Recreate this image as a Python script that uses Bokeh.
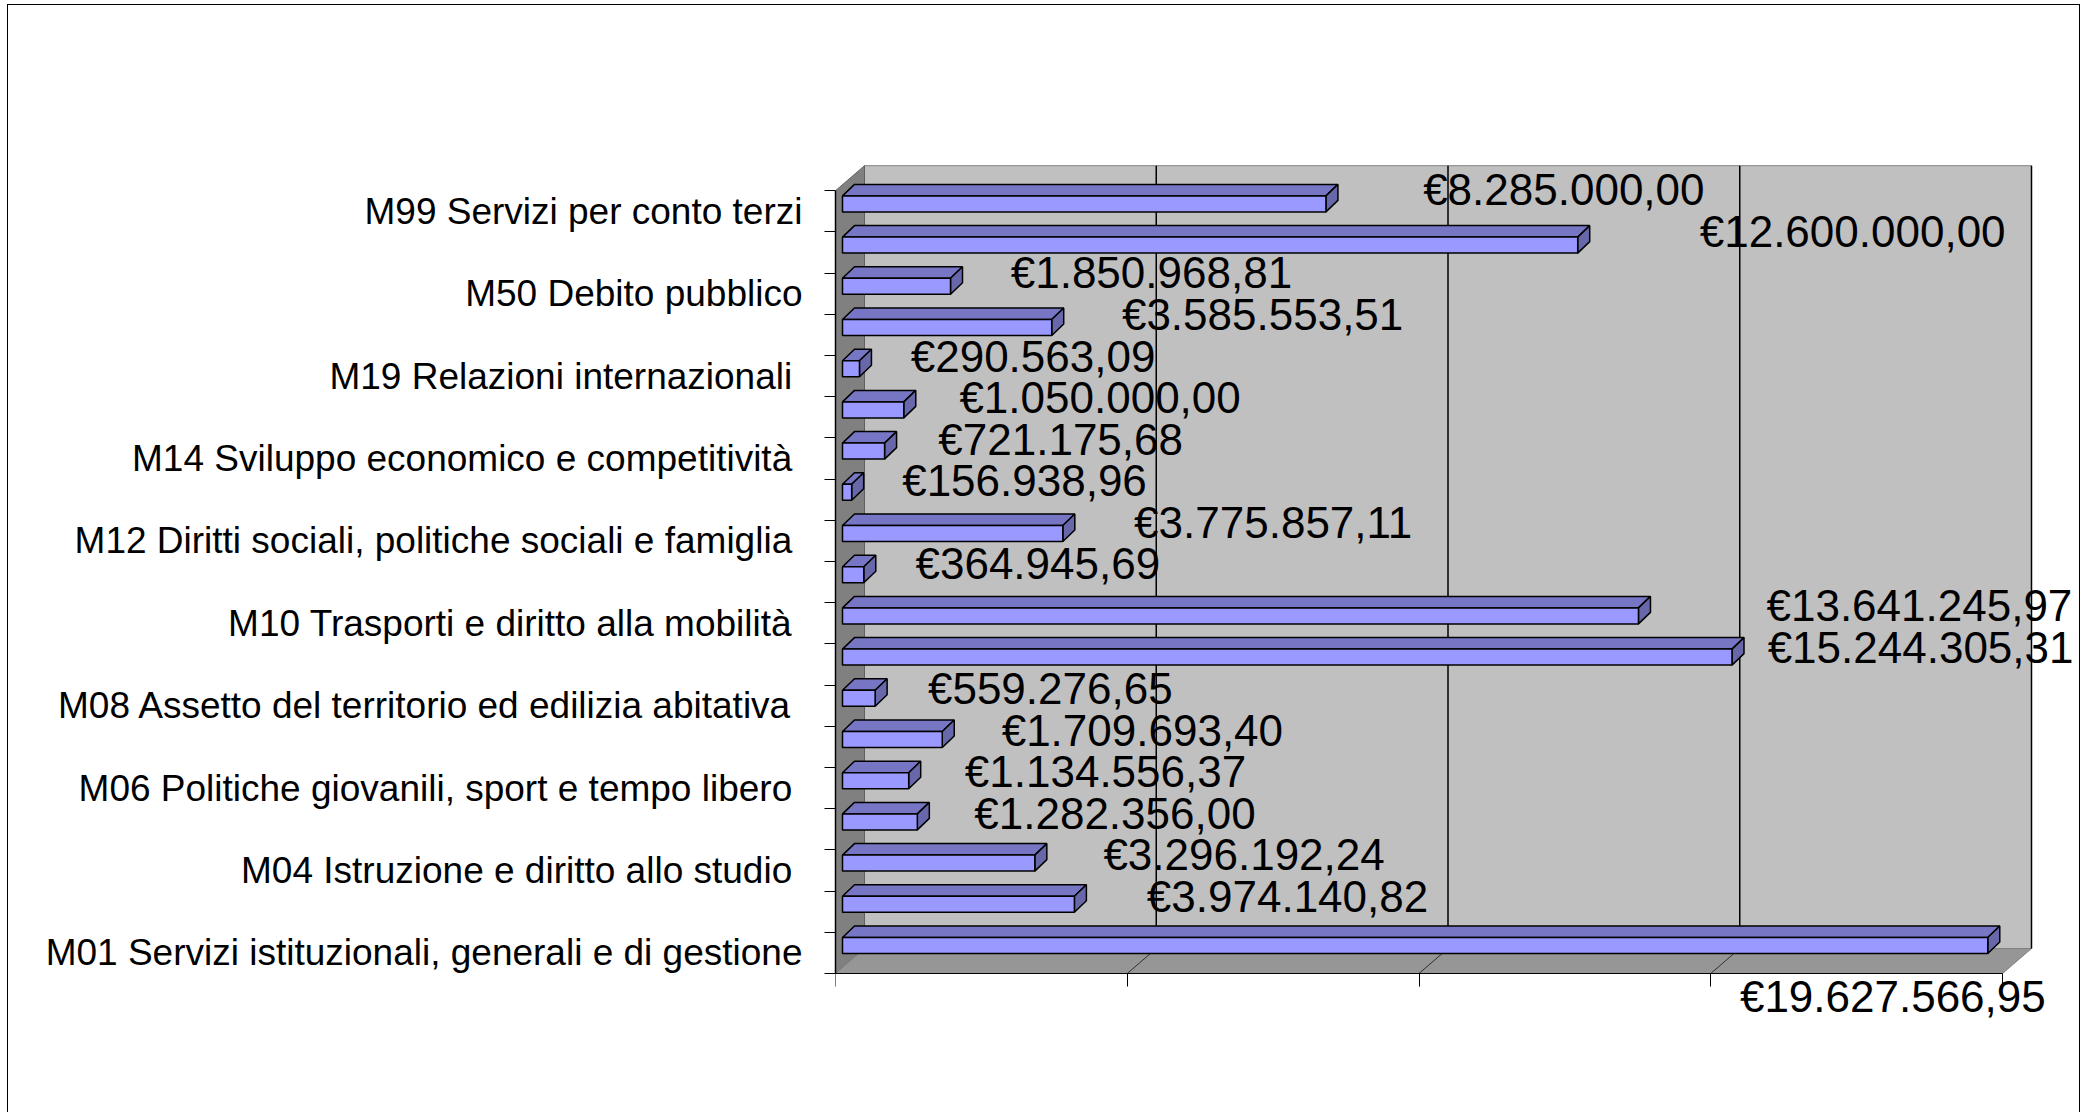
from bokeh.plotting import figure
from bokeh.models import ColumnDataSource, FixedTicker, LabelSet, Range1d
from bokeh.core.properties import value as V
from bokeh.embed import file_html
from bokeh.resources import INLINE

# ---------------- data (bottom to top) ----------------
codes = ["M01", "M03", "M04", "M05", "M06", "M07", "M08", "M09", "M10", "M11",
         "M12", "M13", "M14", "M15", "M19", "M20", "M50", "M60", "M99"]
names = [
    "M01 Servizi istituzionali, generali e di gestione",
    "M03 Ordine pubblico e sicurezza",
    "M04 Istruzione e diritto allo studio\u00a0",
    "M05 Tutela e valorizzazione dei beni e attività culturali",
    "M06 Politiche giovanili, sport e tempo libero\u00a0",
    "M07 Turismo",
    "M08 Assetto del territorio ed edilizia abitativa\u00a0",
    "M09 Sviluppo sostenibile e tutela del territorio e dell'ambiente",
    "M10 Trasporti e diritto alla mobilità\u00a0",
    "M11 Soccorso civile",
    "M12 Diritti sociali, politiche sociali e famiglia\u00a0",
    "M13 Tutela della salute",
    "M14 Sviluppo economico e competitività\u00a0",
    "M15 Politiche per il lavoro e la formazione professionale",
    "M19 Relazioni internazionali\u00a0",
    "M20 Fondi e accantonamenti",
    "M50 Debito pubblico",
    "M60 Anticipazioni finanziarie",
    "M99 Servizi per conto terzi",
]
values = [19627566.95, 3974140.82, 3296192.24, 1282356.00, 1134556.37,
          1709693.40, 559276.65, 15244305.31, 13641245.97, 364945.69,
          3775857.11, 156938.96, 721175.68, 1050000.00, 290563.09,
          3585553.51, 1850968.81, 12600000.00, 8285000.00]
x_ticks = [0, 5000000, 10000000, 15000000, 20000000]
AX_MAX = 20000000


def euro(v):
    s = f"{v:,.2f}"
    s = s.replace(",", "X").replace(".", ",").replace("X", ".")
    return "\u20ac" + s


# ---------------- geometry (pixels -> data units) ----------------
S = 291.75 / 5e6          # px per euro
CAT = 41.2                # px per category
FRAME_W, FRAME_H = 1245, 876
BELOW = 66                # px of frame below the floor front edge
DX, DY = 29 / S, 25 / CAT            # wall depth
OX = 7 / S                           # bar front face offset
B0, B1 = 20 / CAT - 0.5, 36 / CAT - 0.5
BDX, BDY = 12 / S, 11.5 / CAT        # bar depth
FONT = "Liberation Sans"
VAL_FS = 44
CAT_FS = 37

y0 = -0.5 - BELOW / CAT
p = figure(frame_width=FRAME_W, frame_height=FRAME_H,
           x_range=Range1d(0, FRAME_W / S), y_range=Range1d(y0, y0 + FRAME_H / CAT),
           output_backend="svg", toolbar_location=None,
           min_border_left=835, min_border_top=163, min_border_right=1, min_border_bottom=73)
p.border_fill_color = None
p.background_fill_color = None
p.outline_line_color = None
p.grid.visible = False
line = "linear-gradient(#000,#000)"
p.styles = {"background": f"{line} 7px 4px / 1px 1200px no-repeat, "
                          f"{line} 7px 4px / 2073px 1px no-repeat, "
                          f"{line} 2079px 4px / 1px 1200px no-repeat"}

n = len(values)
top_edge = n - 0.5

# walls
p.quad(left=[DX], right=[AX_MAX + DX], bottom=[-0.5 + DY], top=[top_edge + DY],
       fill_color="#C0C0C0", line_color="#808080", line_width=1)
p.patch([0, DX, DX, 0], [-0.5, -0.5 + DY, top_edge + DY, top_edge],
        fill_color="#808080", line_color="#606060", line_width=1)
p.patch([0, AX_MAX, AX_MAX + DX, DX], [-0.5, -0.5, -0.5 + DY, -0.5 + DY],
        fill_color="#969696", line_color="#808080", line_width=1)
# gridlines on back wall and floor
gx = [t + DX for t in x_ticks[1:]]
p.segment(x0=gx, y0=[-0.5 + DY] * len(gx), x1=gx, y1=[top_edge + DY] * len(gx),
          line_color="black", line_width=1.5)
p.segment(x0=x_ticks[1:-1], y0=[-0.5] * 3, x1=[t + DX for t in x_ticks[1:-1]],
          y1=[-0.5 + DY] * 3, line_color="#303030", line_width=1)

# bars
idx = list(range(n))
src_front = ColumnDataSource(dict(left=[OX] * n, right=[OX + v for v in values],
                                  bottom=[i + B0 for i in idx], top=[i + B1 for i in idx]))
top_xs = [[OX, OX + v, OX + v + BDX, OX + BDX] for v in values]
top_ys = [[i + B1, i + B1, i + B1 + BDY, i + B1 + BDY] for i in idx]
side_xs = [[OX + v, OX + v + BDX, OX + v + BDX, OX + v] for v in values]
side_ys = [[i + B0, i + B0 + BDY, i + B1 + BDY, i + B1] for i in idx]
p.patches(top_xs, top_ys, fill_color="#7676C4", line_color="black", line_width=1.5)
p.patches(side_xs, side_ys, fill_color="#6767AA", line_color="black", line_width=1.5)
p.quad(source=src_front, left="left", right="right", bottom="bottom", top="top",
       fill_color="#9999FF", line_color="black", line_width=1.5)


# value labels
def text_w(t, fs):
    w = 0
    for ch in t:
        w += 0.278 if ch in ".," else 0.556
    return w * fs


LIMIT = (2074 - 836) / S
L = dict(x=[], y=[], text=[])
R = dict(x=[], y=[], text=[])
for i, v in enumerate(values):
    t = euro(v)
    w = text_w(t, VAL_FS) / S
    xl = 0.97e6 + 1.0985 * v
    yc = i + 0.36 + 0.009 * i
    if xl + w <= LIMIT:
        L["x"].append(xl); L["y"].append(yc); L["text"].append(t)
    elif LIMIT - w >= OX + v + BDX:
        R["x"].append(LIMIT); R["y"].append(yc); R["text"].append(t)
    else:
        R["x"].append(OX + v + 58 / S); R["y"].append(-0.5 - 23 / CAT); R["text"].append(t)

for d, align in ((L, "left"), (R, "right")):
    p.add_layout(LabelSet(source=ColumnDataSource(d), x="x", y="y", text="text",
                          text_align=align, text_baseline="middle",
                          text_font=V(FONT), text_font_size=V(f"{VAL_FS}px"),
                          text_color="black"))

# axes
ya = p.yaxis[0]
ya.ticker = FixedTicker(ticks=list(range(0, n, 2)), minor_ticks=[k - 0.5 for k in range(n + 1)])
ya.major_label_overrides = {i: names[i] for i in range(0, n, 2)}
ya.bounds = (-0.5, top_edge)
ya.major_tick_out = 0
ya.major_tick_in = 0
ya.minor_tick_out = 11
ya.minor_tick_in = 0
ya.minor_tick_line_color = "black"
ya.axis_line_color = "black"
ya.axis_line_width = 1.5
ya.major_label_standoff = 22
ya.major_label_text_font = FONT
ya.major_label_text_font_size = f"{CAT_FS}px"
ya.major_label_text_color = "black"

xa = p.xaxis[0]
xa.ticker = FixedTicker(ticks=x_ticks)
xa.bounds = (0, AX_MAX)
xa.fixed_location = -0.5
xa.major_tick_out = 13
xa.major_tick_in = 0
xa.major_tick_line_color = "black"
xa.axis_line_color = "black"
xa.major_label_overrides = {t: "" for t in x_ticks}
xa.major_label_text_font_size = "1px"

open("out.html", "w").write(file_html(p, INLINE))
